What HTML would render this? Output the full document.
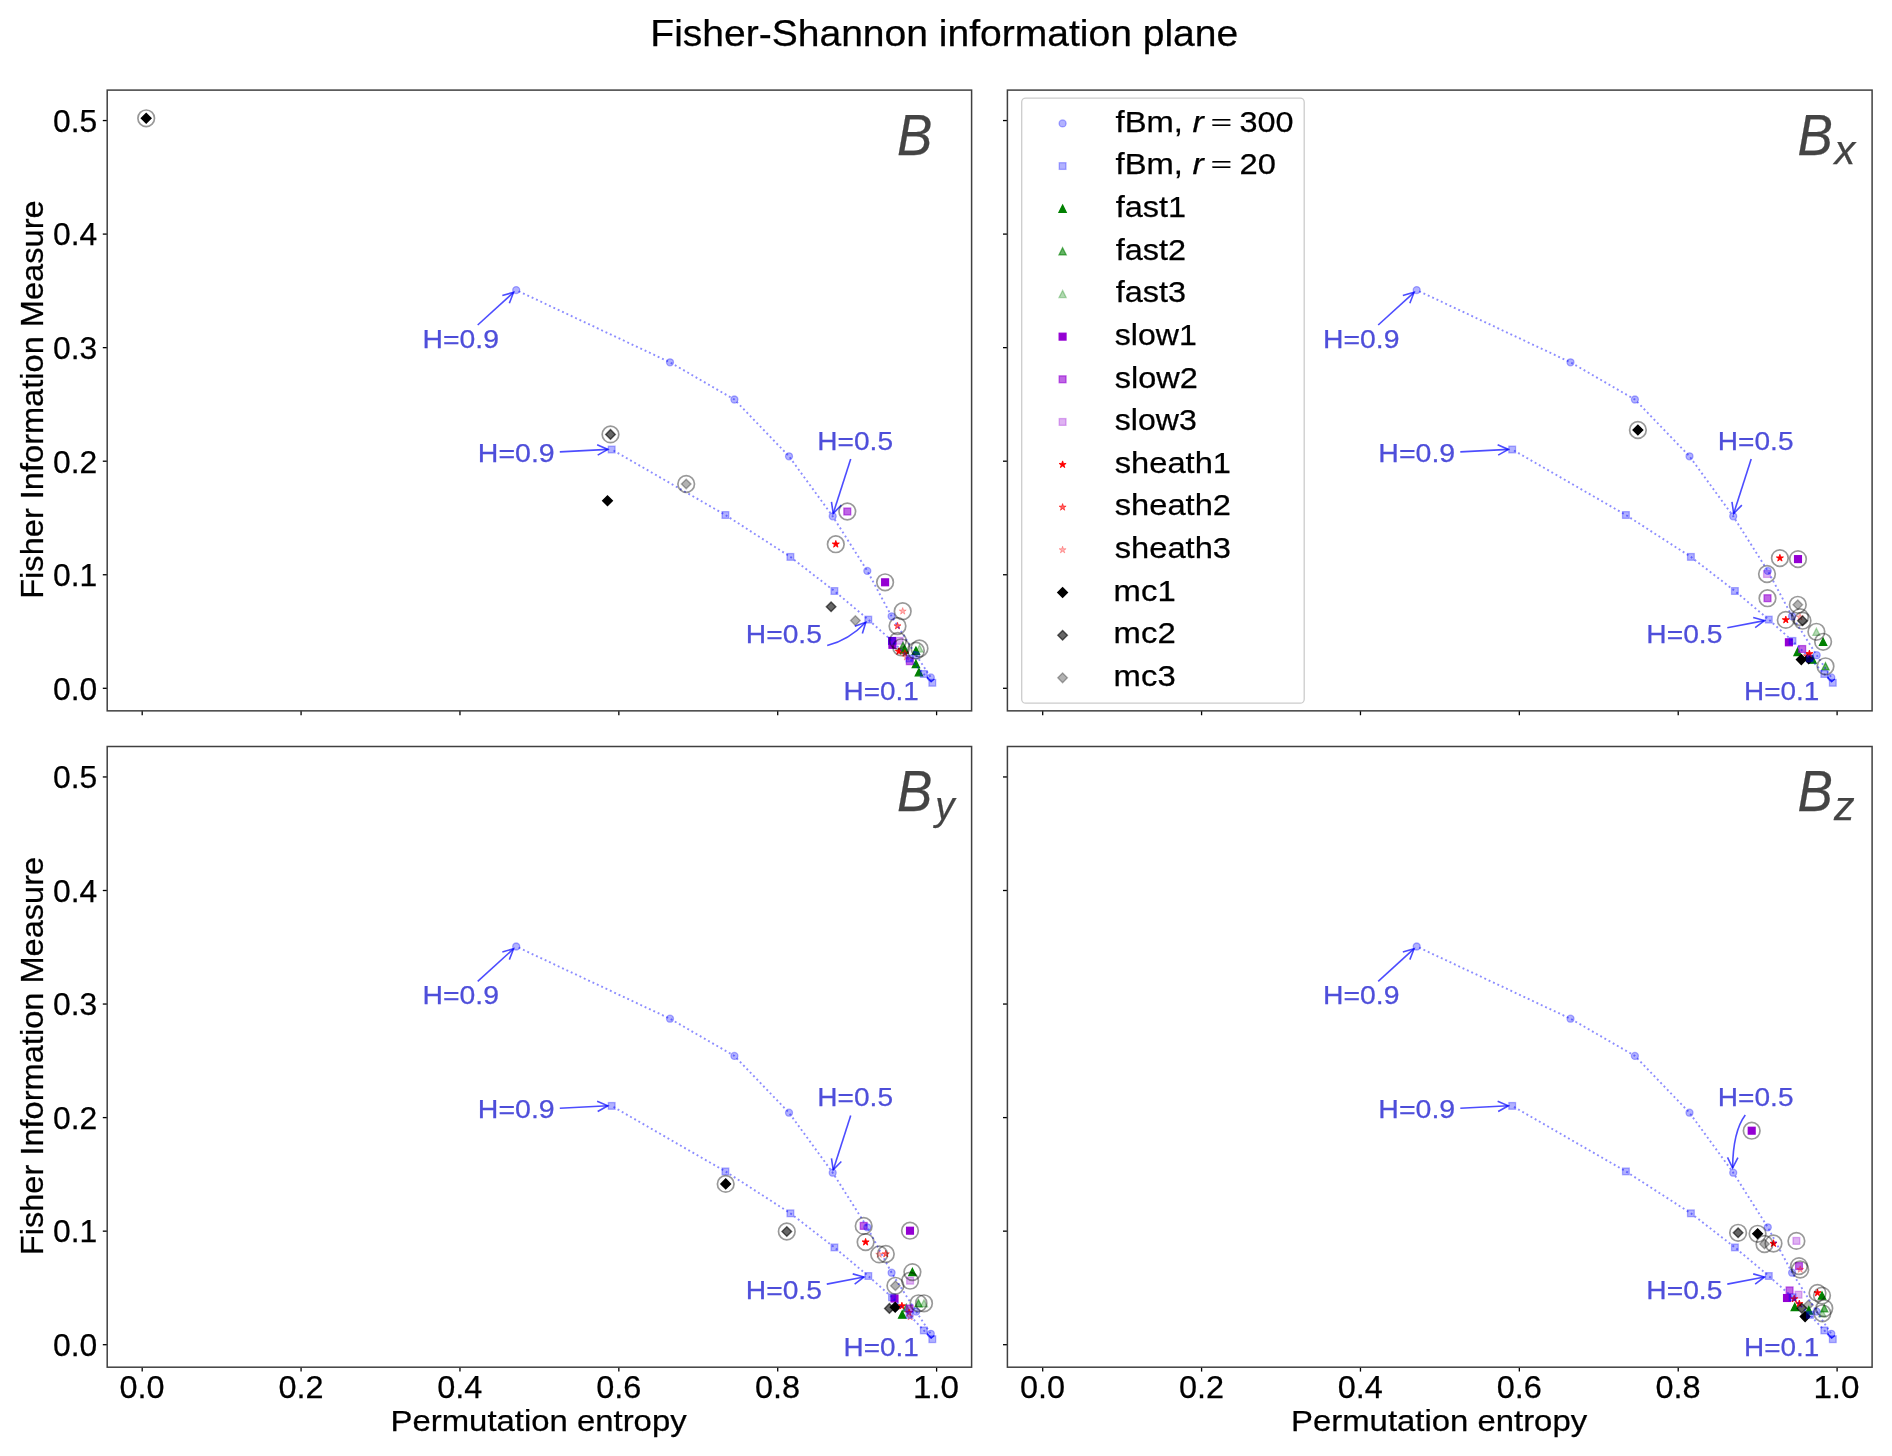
<!DOCTYPE html>
<html><head><meta charset="utf-8"><title>Fisher-Shannon information plane</title>
<style>html,body{margin:0;padding:0;background:#fff;}svg{display:block;will-change:transform;}text{font-family:"Liberation Sans", sans-serif;}</style>
</head><body>
<svg width="1892" height="1456" viewBox="0 0 1892 1456" font-family='"Liberation Sans", sans-serif'>
<defs><clipPath id="clipTL"><rect x="107.2" y="90.1" width="864.4" height="620.75"/></clipPath><clipPath id="clipTR"><rect x="1007.4" y="90.1" width="864.7" height="620.75"/></clipPath><clipPath id="clipBL"><rect x="107.2" y="746.5" width="864.4" height="620.7"/></clipPath><clipPath id="clipBR"><rect x="1007.4" y="746.5" width="864.7" height="620.7"/></clipPath></defs>
<rect x="0" y="0" width="1892" height="1456" fill="#fff"/>
<g clip-path="url(#clipTL)">
<path d="M146.2 113.5L151 118.3L146.2 123.1L141.4 118.3Z" fill="rgba(0,0,0,1.0)" stroke="rgba(0,0,0,1.0)" stroke-width="1.4"/>
<path d="M610.5 429.6L615.3 434.4L610.5 439.2L605.7 434.4Z" fill="rgba(0,0,0,0.6)" stroke="rgba(0,0,0,0.6)" stroke-width="1.4"/>
<path d="M607.5 495.9L612.3 500.7L607.5 505.5L602.7 500.7Z" fill="rgba(0,0,0,1.0)" stroke="rgba(0,0,0,1.0)" stroke-width="1.4"/>
<path d="M686.2 479.2L691 484L686.2 488.8L681.4 484Z" fill="rgba(0,0,0,0.3)" stroke="rgba(0,0,0,0.3)" stroke-width="1.4"/>
<rect x="843.9" y="508.1" width="6.8" height="6.8" fill="rgba(148,0,211,0.6)" stroke="rgba(148,0,211,0.6)" stroke-width="1.3"/>
<path d="M835.8 540.5L836.63 543.06L839.32 543.06L837.14 544.64L837.97 547.19L835.8 545.61L833.63 547.19L834.46 544.64L832.28 543.06L834.97 543.06Z" fill="rgba(255,0,0,1.0)" stroke="rgba(255,0,0,1.0)" stroke-width="0.9"/>
<rect x="881.7" y="578.9" width="6.8" height="6.8" fill="rgba(148,0,211,1.0)" stroke="rgba(148,0,211,1.0)" stroke-width="1.3"/>
<path d="M831.1 602L835.9 606.8L831.1 611.6L826.3 606.8Z" fill="rgba(0,0,0,0.6)" stroke="rgba(0,0,0,0.6)" stroke-width="1.4"/>
<path d="M855.4 615.8L860.2 620.6L855.4 625.4L850.6 620.6Z" fill="rgba(0,0,0,0.3)" stroke="rgba(0,0,0,0.3)" stroke-width="1.4"/>
<path d="M902.7 607.5L903.53 610.06L906.22 610.06L904.04 611.64L904.87 614.19L902.7 612.61L900.53 614.19L901.36 611.64L899.18 610.06L901.87 610.06Z" fill="rgba(255,0,0,0.3)" stroke="rgba(255,0,0,0.3)" stroke-width="0.9"/>
<path d="M897.5 622.3L898.33 624.86L901.02 624.86L898.84 626.44L899.67 628.99L897.5 627.41L895.33 628.99L896.16 626.44L893.98 624.86L896.67 624.86Z" fill="rgba(255,0,0,0.6)" stroke="rgba(255,0,0,0.6)" stroke-width="0.9"/>
<rect x="888.7" y="637.6" width="6.8" height="6.8" fill="rgba(148,0,211,1.0)" stroke="rgba(148,0,211,1.0)" stroke-width="1.3"/>
<rect x="889" y="641.4" width="6.8" height="6.8" fill="rgba(148,0,211,1.0)" stroke="rgba(148,0,211,1.0)" stroke-width="1.3"/>
<rect x="896.2" y="637.4" width="6.8" height="6.8" fill="rgba(148,0,211,0.3)" stroke="rgba(148,0,211,0.3)" stroke-width="1.3"/>

<path d="M903 642.2L906.6 649.4L899.4 649.4Z" fill="rgba(0,128,0,0.6)" stroke="rgba(0,128,0,0.6)" stroke-width="1.3"/>
<path d="M898.9 647.7L899.73 650.26L902.42 650.26L900.24 651.84L901.07 654.39L898.9 652.81L896.73 654.39L897.56 651.84L895.38 650.26L898.07 650.26Z" fill="rgba(255,0,0,1.0)" stroke="rgba(255,0,0,1.0)" stroke-width="0.9"/>
<path d="M904.6 645.9L908.2 653.1L901 653.1Z" fill="rgba(0,128,0,1.0)" stroke="rgba(0,128,0,1.0)" stroke-width="1.3"/>
<path d="M904.9 649.6L905.73 652.16L908.42 652.16L906.24 653.74L907.07 656.29L904.9 654.71L902.73 656.29L903.56 653.74L901.38 652.16L904.07 652.16Z" fill="rgba(255,0,0,0.6)" stroke="rgba(255,0,0,0.6)" stroke-width="0.9"/>
<path d="M906.4 653.4L907.23 655.96L909.92 655.96L907.74 657.54L908.57 660.09L906.4 658.51L904.23 660.09L905.06 657.54L902.88 655.96L905.57 655.96Z" fill="rgba(255,0,0,0.3)" stroke="rgba(255,0,0,0.3)" stroke-width="0.9"/>

<rect x="906.4" y="657.8" width="6.8" height="6.8" fill="rgba(148,0,211,0.6)" stroke="rgba(148,0,211,0.6)" stroke-width="1.3"/>
<path d="M915.9 660.3L919.5 667.5L912.3 667.5Z" fill="rgba(0,128,0,1.0)" stroke="rgba(0,128,0,1.0)" stroke-width="1.3"/>
<path d="M918.9 668.6L922.5 675.8L915.3 675.8Z" fill="rgba(0,128,0,1.0)" stroke="rgba(0,128,0,1.0)" stroke-width="1.3"/>
<path d="M915.9 647.1L919.5 654.3L912.3 654.3Z" fill="rgba(0,128,0,1.0)" stroke="rgba(0,128,0,1.0)" stroke-width="1.3"/>
<path d="M919.5 644.9L923.1 652.1L915.9 652.1Z" fill="rgba(0,128,0,0.3)" stroke="rgba(0,128,0,0.3)" stroke-width="1.3"/>
<text x="422.52" y="347.9" font-size="26" fill="rgb(78,78,218)" stroke="rgb(78,78,218)" stroke-width="0.25" textLength="76.39" lengthAdjust="spacingAndGlyphs">H=0.9</text>
<path d="M477.7 325L513.6 292.3" fill="none" stroke="rgba(0,0,255,0.7)" stroke-width="1.6"/><path d="M509.34 303.21L513.6 292.3L502.34 295.53" fill="none" stroke="rgba(0,0,255,0.7)" stroke-width="1.6" stroke-linejoin="miter"/>
<text x="477.81" y="461.7" font-size="26" fill="rgb(78,78,218)" stroke="rgb(78,78,218)" stroke-width="0.25" textLength="76.91" lengthAdjust="spacingAndGlyphs">H=0.9</text>
<path d="M559.8 451.9L607.9 449.4" fill="none" stroke="rgba(0,0,255,0.7)" stroke-width="1.6"/><path d="M597.68 455.14L607.9 449.4L597.14 444.75" fill="none" stroke="rgba(0,0,255,0.7)" stroke-width="1.6" stroke-linejoin="miter"/>
<text x="817.34" y="450" font-size="26" fill="rgb(78,78,218)" stroke="rgb(78,78,218)" stroke-width="0.25" textLength="75.66" lengthAdjust="spacingAndGlyphs">H=0.5</text>
<path d="M850.7 459L833.2 513.5" fill="none" stroke="rgba(0,0,255,0.7)" stroke-width="1.6"/><path d="M831.46 501.91L833.2 513.5L841.36 505.09" fill="none" stroke="rgba(0,0,255,0.7)" stroke-width="1.6" stroke-linejoin="miter"/>
<text x="745.83" y="643" font-size="26" fill="rgb(78,78,218)" stroke="rgb(78,78,218)" stroke-width="0.25" textLength="76.07" lengthAdjust="spacingAndGlyphs">H=0.5</text>
<path d="M827.2 645.5Q849 640 865.8 622.2" fill="none" stroke="rgba(0,0,255,0.7)" stroke-width="1.6"/><path d="M862.37 633.41L865.8 622.2L854.81 626.27" fill="none" stroke="rgba(0,0,255,0.7)" stroke-width="1.6" stroke-linejoin="miter"/>
<text x="843.55" y="699.9" font-size="26" fill="rgb(78,78,218)" stroke="rgb(78,78,218)" stroke-width="0.25" textLength="75.24" lengthAdjust="spacingAndGlyphs">H=0.1</text>
<path d="M927.2 677.2L931.3 681.6L934.4 679" fill="none" stroke="rgba(0,0,255,0.7)" stroke-width="1.3"/>
<path d="M516.2 290.1L670 362.3L734.4 399.5L789 456.3L832.7 516.3L867.3 570.9L891.6 616.3L916.2 655.2L930.8 677.4" fill="none" stroke="rgba(0,0,255,0.45)" stroke-width="1.9" stroke-dasharray="1.9 2.9" stroke-dashoffset="2.1" stroke-linecap="butt"/>
<path d="M611.7 449.5L725.4 515L790.4 556.9L834.4 591L868.3 619.6L892 640.9L909.5 658.5L923.8 674L932.3 682.8" fill="none" stroke="rgba(0,0,255,0.45)" stroke-width="1.9" stroke-dasharray="1.9 2.9" stroke-dashoffset="2.75" stroke-linecap="butt"/>
<circle cx="516.2" cy="290.1" r="3.5" fill="rgba(0,0,255,0.3)" stroke="rgba(0,0,255,0.3)" stroke-width="1.3"/>
<circle cx="670" cy="362.3" r="3.5" fill="rgba(0,0,255,0.3)" stroke="rgba(0,0,255,0.3)" stroke-width="1.3"/>
<circle cx="734.4" cy="399.5" r="3.5" fill="rgba(0,0,255,0.3)" stroke="rgba(0,0,255,0.3)" stroke-width="1.3"/>
<circle cx="789" cy="456.3" r="3.5" fill="rgba(0,0,255,0.3)" stroke="rgba(0,0,255,0.3)" stroke-width="1.3"/>
<circle cx="832.7" cy="516.3" r="3.5" fill="rgba(0,0,255,0.3)" stroke="rgba(0,0,255,0.3)" stroke-width="1.3"/>
<circle cx="867.3" cy="570.9" r="3.5" fill="rgba(0,0,255,0.3)" stroke="rgba(0,0,255,0.3)" stroke-width="1.3"/>
<circle cx="891.6" cy="616.3" r="3.5" fill="rgba(0,0,255,0.3)" stroke="rgba(0,0,255,0.3)" stroke-width="1.3"/>
<circle cx="916.2" cy="655.2" r="3.5" fill="rgba(0,0,255,0.3)" stroke="rgba(0,0,255,0.3)" stroke-width="1.3"/>
<circle cx="930.8" cy="677.4" r="3.5" fill="rgba(0,0,255,0.3)" stroke="rgba(0,0,255,0.3)" stroke-width="1.3"/>
<rect x="608.35" y="446.15" width="6.7" height="6.7" fill="rgba(0,0,255,0.3)" stroke="rgba(0,0,255,0.3)" stroke-width="1.3"/>
<rect x="722.05" y="511.65" width="6.7" height="6.7" fill="rgba(0,0,255,0.3)" stroke="rgba(0,0,255,0.3)" stroke-width="1.3"/>
<rect x="787.05" y="553.55" width="6.7" height="6.7" fill="rgba(0,0,255,0.3)" stroke="rgba(0,0,255,0.3)" stroke-width="1.3"/>
<rect x="831.05" y="587.65" width="6.7" height="6.7" fill="rgba(0,0,255,0.3)" stroke="rgba(0,0,255,0.3)" stroke-width="1.3"/>
<rect x="864.95" y="616.25" width="6.7" height="6.7" fill="rgba(0,0,255,0.3)" stroke="rgba(0,0,255,0.3)" stroke-width="1.3"/>
<rect x="888.65" y="637.55" width="6.7" height="6.7" fill="rgba(0,0,255,0.3)" stroke="rgba(0,0,255,0.3)" stroke-width="1.3"/>
<rect x="906.15" y="655.15" width="6.7" height="6.7" fill="rgba(0,0,255,0.3)" stroke="rgba(0,0,255,0.3)" stroke-width="1.3"/>
<rect x="920.45" y="670.65" width="6.7" height="6.7" fill="rgba(0,0,255,0.3)" stroke="rgba(0,0,255,0.3)" stroke-width="1.3"/>
<rect x="928.95" y="679.45" width="6.7" height="6.7" fill="rgba(0,0,255,0.3)" stroke="rgba(0,0,255,0.3)" stroke-width="1.3"/>
<circle cx="146.2" cy="118.3" r="8.3" fill="none" stroke="rgba(0,0,0,0.4)" stroke-width="1.7"/>
<circle cx="610.5" cy="434.4" r="8.3" fill="none" stroke="rgba(0,0,0,0.4)" stroke-width="1.7"/>
<circle cx="686.2" cy="484" r="8.3" fill="none" stroke="rgba(0,0,0,0.4)" stroke-width="1.7"/>
<circle cx="847.3" cy="511.5" r="8.3" fill="none" stroke="rgba(0,0,0,0.4)" stroke-width="1.7"/>
<circle cx="835.8" cy="544.2" r="8.3" fill="none" stroke="rgba(0,0,0,0.4)" stroke-width="1.7"/>
<circle cx="885.1" cy="582.3" r="8.3" fill="none" stroke="rgba(0,0,0,0.4)" stroke-width="1.7"/>
<circle cx="902.7" cy="611.2" r="8.3" fill="none" stroke="rgba(0,0,0,0.4)" stroke-width="1.7"/>
<circle cx="897.5" cy="626" r="8.3" fill="none" stroke="rgba(0,0,0,0.4)" stroke-width="1.7"/>
<circle cx="897.9" cy="640.8" r="8.3" fill="none" stroke="rgba(0,0,0,0.4)" stroke-width="1.7"/>
<circle cx="901.2" cy="647.3" r="8.3" fill="none" stroke="rgba(0,0,0,0.4)" stroke-width="1.7"/>
<circle cx="915.9" cy="650.7" r="8.3" fill="none" stroke="rgba(0,0,0,0.4)" stroke-width="1.7"/>
<circle cx="919.5" cy="648.5" r="8.3" fill="none" stroke="rgba(0,0,0,0.4)" stroke-width="1.7"/>
</g>
<line x1="102.8" y1="688.3" x2="107.2" y2="688.3" stroke="#000" stroke-width="1.3"/>
<line x1="102.8" y1="574.75" x2="107.2" y2="574.75" stroke="#000" stroke-width="1.3"/>
<line x1="102.8" y1="461.2" x2="107.2" y2="461.2" stroke="#000" stroke-width="1.3"/>
<line x1="102.8" y1="347.65" x2="107.2" y2="347.65" stroke="#000" stroke-width="1.3"/>
<line x1="102.8" y1="234.1" x2="107.2" y2="234.1" stroke="#000" stroke-width="1.3"/>
<line x1="102.8" y1="120.55" x2="107.2" y2="120.55" stroke="#000" stroke-width="1.3"/>
<line x1="142.2" y1="710.85" x2="142.2" y2="715.25" stroke="#000" stroke-width="1.3"/>
<line x1="301.08" y1="710.85" x2="301.08" y2="715.25" stroke="#000" stroke-width="1.3"/>
<line x1="459.96" y1="710.85" x2="459.96" y2="715.25" stroke="#000" stroke-width="1.3"/>
<line x1="618.84" y1="710.85" x2="618.84" y2="715.25" stroke="#000" stroke-width="1.3"/>
<line x1="777.72" y1="710.85" x2="777.72" y2="715.25" stroke="#000" stroke-width="1.3"/>
<line x1="936.6" y1="710.85" x2="936.6" y2="715.25" stroke="#000" stroke-width="1.3"/>
<rect x="107.2" y="90.1" width="864.4" height="620.75" fill="none" stroke="#404040" stroke-width="1.5"/>
<g clip-path="url(#clipTR)">
<path d="M1637.9 425.2L1642.7 430L1637.9 434.8L1633.1 430Z" fill="rgba(0,0,0,1.0)" stroke="rgba(0,0,0,1.0)" stroke-width="1.4"/>
<path d="M1779.9 554.4L1780.73 556.96L1783.42 556.96L1781.24 558.54L1782.07 561.09L1779.9 559.51L1777.73 561.09L1778.56 558.54L1776.38 556.96L1779.07 556.96Z" fill="rgba(255,0,0,1.0)" stroke="rgba(255,0,0,1.0)" stroke-width="0.9"/>
<rect x="1794.6" y="555.7" width="6.8" height="6.8" fill="rgba(148,0,211,1.0)" stroke="rgba(148,0,211,1.0)" stroke-width="1.3"/>
<rect x="1763.6" y="570.6" width="6.8" height="6.8" fill="rgba(148,0,211,0.3)" stroke="rgba(148,0,211,0.3)" stroke-width="1.3"/>
<rect x="1764.1" y="594.8" width="6.8" height="6.8" fill="rgba(148,0,211,0.6)" stroke="rgba(148,0,211,0.6)" stroke-width="1.3"/>
<path d="M1797.8 600L1802.6 604.8L1797.8 609.6L1793 604.8Z" fill="rgba(0,0,0,0.3)" stroke="rgba(0,0,0,0.3)" stroke-width="1.4"/>
<path d="M1785.8 616.2L1786.63 618.76L1789.32 618.76L1787.14 620.34L1787.97 622.89L1785.8 621.31L1783.63 622.89L1784.46 620.34L1782.28 618.76L1784.97 618.76Z" fill="rgba(255,0,0,1.0)" stroke="rgba(255,0,0,1.0)" stroke-width="0.9"/>
<path d="M1800 613.4L1800.83 615.96L1803.52 615.96L1801.34 617.54L1802.17 620.09L1800 618.51L1797.83 620.09L1798.66 617.54L1796.48 615.96L1799.17 615.96Z" fill="rgba(255,0,0,0.3)" stroke="rgba(255,0,0,0.3)" stroke-width="0.9"/>
<path d="M1802.5 615.9L1807.3 620.7L1802.5 625.5L1797.7 620.7Z" fill="rgba(0,0,0,0.6)" stroke="rgba(0,0,0,0.6)" stroke-width="1.4"/>
<path d="M1816.4 628.2L1820 635.4L1812.8 635.4Z" fill="rgba(0,128,0,0.3)" stroke="rgba(0,128,0,0.3)" stroke-width="1.3"/>
<path d="M1823.1 638.2L1826.7 645.4L1819.5 645.4Z" fill="rgba(0,128,0,1.0)" stroke="rgba(0,128,0,1.0)" stroke-width="1.3"/>
<rect x="1785.5" y="638.9" width="6.8" height="6.8" fill="rgba(148,0,211,1.0)" stroke="rgba(148,0,211,1.0)" stroke-width="1.3"/>
<path d="M1797.6 648.3L1801.2 655.5L1794 655.5Z" fill="rgba(0,128,0,1.0)" stroke="rgba(0,128,0,1.0)" stroke-width="1.3"/>
<rect x="1798.8" y="645.6" width="6.8" height="6.8" fill="rgba(148,0,211,0.6)" stroke="rgba(148,0,211,0.6)" stroke-width="1.3"/>
<path d="M1807 652.3L1807.83 654.86L1810.52 654.86L1808.34 656.44L1809.17 658.99L1807 657.41L1804.83 658.99L1805.66 656.44L1803.48 654.86L1806.17 654.86Z" fill="rgba(255,0,0,0.6)" stroke="rgba(255,0,0,0.6)" stroke-width="0.9"/>
<path d="M1812.5 656L1816.1 663.2L1808.9 663.2Z" fill="rgba(0,128,0,1.0)" stroke="rgba(0,128,0,1.0)" stroke-width="1.3"/>
<path d="M1808.7 653.9L1813.5 658.7L1808.7 663.5L1803.9 658.7Z" fill="rgba(0,0,0,1.0)" stroke="rgba(0,0,0,1.0)" stroke-width="1.4"/>
<path d="M1809.4 650.1L1810.23 652.66L1812.92 652.66L1810.74 654.24L1811.57 656.79L1809.4 655.21L1807.23 656.79L1808.06 654.24L1805.88 652.66L1808.57 652.66Z" fill="rgba(255,0,0,1.0)" stroke="rgba(255,0,0,1.0)" stroke-width="0.9"/>
<path d="M1801.3 654.8L1806.1 659.6L1801.3 664.4L1796.5 659.6Z" fill="rgba(0,0,0,1.0)" stroke="rgba(0,0,0,1.0)" stroke-width="1.4"/>
<path d="M1825.5 662.7L1829.1 669.9L1821.9 669.9Z" fill="rgba(0,128,0,0.6)" stroke="rgba(0,128,0,0.6)" stroke-width="1.3"/>
<text x="1323.02" y="347.9" font-size="26" fill="rgb(78,78,218)" stroke="rgb(78,78,218)" stroke-width="0.25" textLength="76.39" lengthAdjust="spacingAndGlyphs">H=0.9</text>
<path d="M1378.2 325L1414.1 292.3" fill="none" stroke="rgba(0,0,255,0.7)" stroke-width="1.6"/><path d="M1409.84 303.21L1414.1 292.3L1402.84 295.53" fill="none" stroke="rgba(0,0,255,0.7)" stroke-width="1.6" stroke-linejoin="miter"/>
<text x="1378.31" y="461.7" font-size="26" fill="rgb(78,78,218)" stroke="rgb(78,78,218)" stroke-width="0.25" textLength="76.91" lengthAdjust="spacingAndGlyphs">H=0.9</text>
<path d="M1460.3 451.9L1508.4 449.4" fill="none" stroke="rgba(0,0,255,0.7)" stroke-width="1.6"/><path d="M1498.18 455.14L1508.4 449.4L1497.64 444.75" fill="none" stroke="rgba(0,0,255,0.7)" stroke-width="1.6" stroke-linejoin="miter"/>
<text x="1717.84" y="450" font-size="26" fill="rgb(78,78,218)" stroke="rgb(78,78,218)" stroke-width="0.25" textLength="75.66" lengthAdjust="spacingAndGlyphs">H=0.5</text>
<path d="M1751.2 459L1733.7 513.5" fill="none" stroke="rgba(0,0,255,0.7)" stroke-width="1.6"/><path d="M1731.96 501.91L1733.7 513.5L1741.86 505.09" fill="none" stroke="rgba(0,0,255,0.7)" stroke-width="1.6" stroke-linejoin="miter"/>
<text x="1646.33" y="643" font-size="26" fill="rgb(78,78,218)" stroke="rgb(78,78,218)" stroke-width="0.25" textLength="76.07" lengthAdjust="spacingAndGlyphs">H=0.5</text>
<path d="M1727.3 627.7L1764.5 620.6" fill="none" stroke="rgba(0,0,255,0.7)" stroke-width="1.6"/><path d="M1755.16 627.68L1764.5 620.6L1753.21 617.46" fill="none" stroke="rgba(0,0,255,0.7)" stroke-width="1.6" stroke-linejoin="miter"/>
<text x="1744.05" y="699.9" font-size="26" fill="rgb(78,78,218)" stroke="rgb(78,78,218)" stroke-width="0.25" textLength="75.24" lengthAdjust="spacingAndGlyphs">H=0.1</text>
<path d="M1827.7 677.2L1831.8 681.6L1834.9 679" fill="none" stroke="rgba(0,0,255,0.7)" stroke-width="1.3"/>
<path d="M1416.7 290.1L1570.5 362.3L1634.9 399.5L1689.5 456.3L1733.2 516.3L1767.8 570.9L1792.1 616.3L1816.7 655.2L1831.3 677.4" fill="none" stroke="rgba(0,0,255,0.45)" stroke-width="1.9" stroke-dasharray="1.9 2.9" stroke-dashoffset="2.1" stroke-linecap="butt"/>
<path d="M1512.2 449.5L1625.9 515L1690.9 556.9L1734.9 591L1768.8 619.6L1792.5 640.9L1810 658.5L1824.3 674L1832.8 682.8" fill="none" stroke="rgba(0,0,255,0.45)" stroke-width="1.9" stroke-dasharray="1.9 2.9" stroke-dashoffset="2.75" stroke-linecap="butt"/>
<circle cx="1416.7" cy="290.1" r="3.5" fill="rgba(0,0,255,0.3)" stroke="rgba(0,0,255,0.3)" stroke-width="1.3"/>
<circle cx="1570.5" cy="362.3" r="3.5" fill="rgba(0,0,255,0.3)" stroke="rgba(0,0,255,0.3)" stroke-width="1.3"/>
<circle cx="1634.9" cy="399.5" r="3.5" fill="rgba(0,0,255,0.3)" stroke="rgba(0,0,255,0.3)" stroke-width="1.3"/>
<circle cx="1689.5" cy="456.3" r="3.5" fill="rgba(0,0,255,0.3)" stroke="rgba(0,0,255,0.3)" stroke-width="1.3"/>
<circle cx="1733.2" cy="516.3" r="3.5" fill="rgba(0,0,255,0.3)" stroke="rgba(0,0,255,0.3)" stroke-width="1.3"/>
<circle cx="1767.8" cy="570.9" r="3.5" fill="rgba(0,0,255,0.3)" stroke="rgba(0,0,255,0.3)" stroke-width="1.3"/>
<circle cx="1792.1" cy="616.3" r="3.5" fill="rgba(0,0,255,0.3)" stroke="rgba(0,0,255,0.3)" stroke-width="1.3"/>
<circle cx="1816.7" cy="655.2" r="3.5" fill="rgba(0,0,255,0.3)" stroke="rgba(0,0,255,0.3)" stroke-width="1.3"/>
<circle cx="1831.3" cy="677.4" r="3.5" fill="rgba(0,0,255,0.3)" stroke="rgba(0,0,255,0.3)" stroke-width="1.3"/>
<rect x="1508.85" y="446.15" width="6.7" height="6.7" fill="rgba(0,0,255,0.3)" stroke="rgba(0,0,255,0.3)" stroke-width="1.3"/>
<rect x="1622.55" y="511.65" width="6.7" height="6.7" fill="rgba(0,0,255,0.3)" stroke="rgba(0,0,255,0.3)" stroke-width="1.3"/>
<rect x="1687.55" y="553.55" width="6.7" height="6.7" fill="rgba(0,0,255,0.3)" stroke="rgba(0,0,255,0.3)" stroke-width="1.3"/>
<rect x="1731.55" y="587.65" width="6.7" height="6.7" fill="rgba(0,0,255,0.3)" stroke="rgba(0,0,255,0.3)" stroke-width="1.3"/>
<rect x="1765.45" y="616.25" width="6.7" height="6.7" fill="rgba(0,0,255,0.3)" stroke="rgba(0,0,255,0.3)" stroke-width="1.3"/>
<rect x="1789.15" y="637.55" width="6.7" height="6.7" fill="rgba(0,0,255,0.3)" stroke="rgba(0,0,255,0.3)" stroke-width="1.3"/>
<rect x="1806.65" y="655.15" width="6.7" height="6.7" fill="rgba(0,0,255,0.3)" stroke="rgba(0,0,255,0.3)" stroke-width="1.3"/>
<rect x="1820.95" y="670.65" width="6.7" height="6.7" fill="rgba(0,0,255,0.3)" stroke="rgba(0,0,255,0.3)" stroke-width="1.3"/>
<rect x="1829.45" y="679.45" width="6.7" height="6.7" fill="rgba(0,0,255,0.3)" stroke="rgba(0,0,255,0.3)" stroke-width="1.3"/>
<circle cx="1637.9" cy="430" r="8.3" fill="none" stroke="rgba(0,0,0,0.4)" stroke-width="1.7"/>
<circle cx="1779.9" cy="558.1" r="8.3" fill="none" stroke="rgba(0,0,0,0.4)" stroke-width="1.7"/>
<circle cx="1798" cy="559.1" r="8.3" fill="none" stroke="rgba(0,0,0,0.4)" stroke-width="1.7"/>
<circle cx="1767" cy="574" r="8.3" fill="none" stroke="rgba(0,0,0,0.4)" stroke-width="1.7"/>
<circle cx="1767.5" cy="598.2" r="8.3" fill="none" stroke="rgba(0,0,0,0.4)" stroke-width="1.7"/>
<circle cx="1797.8" cy="604.8" r="8.3" fill="none" stroke="rgba(0,0,0,0.4)" stroke-width="1.7"/>
<circle cx="1785.8" cy="619.9" r="8.3" fill="none" stroke="rgba(0,0,0,0.4)" stroke-width="1.7"/>
<circle cx="1800" cy="617.1" r="8.3" fill="none" stroke="rgba(0,0,0,0.4)" stroke-width="1.7"/>
<circle cx="1802.5" cy="620.7" r="8.3" fill="none" stroke="rgba(0,0,0,0.4)" stroke-width="1.7"/>
<circle cx="1816.4" cy="631.8" r="8.3" fill="none" stroke="rgba(0,0,0,0.4)" stroke-width="1.7"/>
<circle cx="1823.1" cy="641.8" r="8.3" fill="none" stroke="rgba(0,0,0,0.4)" stroke-width="1.7"/>
<circle cx="1825.5" cy="666.3" r="8.3" fill="none" stroke="rgba(0,0,0,0.4)" stroke-width="1.7"/>
</g>
<line x1="1003" y1="688.3" x2="1007.4" y2="688.3" stroke="#000" stroke-width="1.3"/>
<line x1="1003" y1="574.75" x2="1007.4" y2="574.75" stroke="#000" stroke-width="1.3"/>
<line x1="1003" y1="461.2" x2="1007.4" y2="461.2" stroke="#000" stroke-width="1.3"/>
<line x1="1003" y1="347.65" x2="1007.4" y2="347.65" stroke="#000" stroke-width="1.3"/>
<line x1="1003" y1="234.1" x2="1007.4" y2="234.1" stroke="#000" stroke-width="1.3"/>
<line x1="1003" y1="120.55" x2="1007.4" y2="120.55" stroke="#000" stroke-width="1.3"/>
<line x1="1042.7" y1="710.85" x2="1042.7" y2="715.25" stroke="#000" stroke-width="1.3"/>
<line x1="1201.58" y1="710.85" x2="1201.58" y2="715.25" stroke="#000" stroke-width="1.3"/>
<line x1="1360.46" y1="710.85" x2="1360.46" y2="715.25" stroke="#000" stroke-width="1.3"/>
<line x1="1519.34" y1="710.85" x2="1519.34" y2="715.25" stroke="#000" stroke-width="1.3"/>
<line x1="1678.22" y1="710.85" x2="1678.22" y2="715.25" stroke="#000" stroke-width="1.3"/>
<line x1="1837.1" y1="710.85" x2="1837.1" y2="715.25" stroke="#000" stroke-width="1.3"/>
<rect x="1007.4" y="90.1" width="864.7" height="620.75" fill="none" stroke="#404040" stroke-width="1.5"/>
<g clip-path="url(#clipBL)">
<path d="M725.7 1179.1L730.5 1183.9L725.7 1188.7L720.9 1183.9Z" fill="rgba(0,0,0,1.0)" stroke="rgba(0,0,0,1.0)" stroke-width="1.4"/>
<path d="M786.8 1226.7L791.6 1231.5L786.8 1236.3L782 1231.5Z" fill="rgba(0,0,0,0.6)" stroke="rgba(0,0,0,0.6)" stroke-width="1.4"/>
<rect x="860.3" y="1222.5" width="6.8" height="6.8" fill="rgba(148,0,211,0.6)" stroke="rgba(148,0,211,0.6)" stroke-width="1.3"/>
<rect x="906.6" y="1227.3" width="6.8" height="6.8" fill="rgba(148,0,211,1.0)" stroke="rgba(148,0,211,1.0)" stroke-width="1.3"/>
<path d="M865.6 1238.4L866.43 1240.96L869.12 1240.96L866.94 1242.54L867.77 1245.09L865.6 1243.51L863.43 1245.09L864.26 1242.54L862.08 1240.96L864.77 1240.96Z" fill="rgba(255,0,0,1.0)" stroke="rgba(255,0,0,1.0)" stroke-width="0.9"/>
<path d="M879.2 1250.7L880.03 1253.26L882.72 1253.26L880.54 1254.84L881.37 1257.39L879.2 1255.81L877.03 1257.39L877.86 1254.84L875.68 1253.26L878.37 1253.26Z" fill="rgba(255,0,0,0.3)" stroke="rgba(255,0,0,0.3)" stroke-width="0.9"/>
<path d="M885.8 1250.3L886.63 1252.86L889.32 1252.86L887.14 1254.44L887.97 1256.99L885.8 1255.41L883.63 1256.99L884.46 1254.44L882.28 1252.86L884.97 1252.86Z" fill="rgba(255,0,0,0.6)" stroke="rgba(255,0,0,0.6)" stroke-width="0.9"/>
<path d="M912.4 1268.5L916 1275.7L908.8 1275.7Z" fill="rgba(0,128,0,1.0)" stroke="rgba(0,128,0,1.0)" stroke-width="1.3"/>
<rect x="906.7" y="1277.3" width="6.8" height="6.8" fill="rgba(148,0,211,0.3)" stroke="rgba(148,0,211,0.3)" stroke-width="1.3"/>
<path d="M895.4 1281L900.2 1285.8L895.4 1290.6L890.6 1285.8Z" fill="rgba(0,0,0,0.3)" stroke="rgba(0,0,0,0.3)" stroke-width="1.4"/>
<rect x="891.1" y="1295.1" width="6.8" height="6.8" fill="rgba(148,0,211,1.0)" stroke="rgba(148,0,211,1.0)" stroke-width="1.3"/>
<path d="M889.4 1303.6L894.2 1308.4L889.4 1313.2L884.6 1308.4Z" fill="rgba(0,0,0,0.6)" stroke="rgba(0,0,0,0.6)" stroke-width="1.4"/>
<path d="M895.2 1302.4L900 1307.2L895.2 1312L890.4 1307.2Z" fill="rgba(0,0,0,1.0)" stroke="rgba(0,0,0,1.0)" stroke-width="1.4"/>
<path d="M901.9 1302.3L902.73 1304.86L905.42 1304.86L903.24 1306.44L904.07 1308.99L901.9 1307.41L899.73 1308.99L900.56 1306.44L898.38 1304.86L901.07 1304.86Z" fill="rgba(255,0,0,1.0)" stroke="rgba(255,0,0,1.0)" stroke-width="0.9"/>
<path d="M902.2 1311L905.8 1318.2L898.6 1318.2Z" fill="rgba(0,128,0,1.0)" stroke="rgba(0,128,0,1.0)" stroke-width="1.3"/>
<path d="M906.3 1304.3L909.9 1311.5L902.7 1311.5Z" fill="rgba(0,128,0,0.6)" stroke="rgba(0,128,0,0.6)" stroke-width="1.3"/>
<rect x="906.2" y="1305.1" width="6.8" height="6.8" fill="rgba(148,0,211,0.6)" stroke="rgba(148,0,211,0.6)" stroke-width="1.3"/>
<path d="M909.1 1309L909.93 1311.56L912.62 1311.56L910.44 1313.14L911.27 1315.69L909.1 1314.11L906.93 1315.69L907.76 1313.14L905.58 1311.56L908.27 1311.56Z" fill="rgba(255,0,0,0.6)" stroke="rgba(255,0,0,0.6)" stroke-width="0.9"/>
<path d="M910.1 1313.3L910.93 1315.86L913.62 1315.86L911.44 1317.44L912.27 1319.99L910.1 1318.41L907.93 1319.99L908.76 1317.44L906.58 1315.86L909.27 1315.86Z" fill="rgba(255,0,0,0.3)" stroke="rgba(255,0,0,0.3)" stroke-width="0.9"/>
<path d="M918.5 1299.7L922.1 1306.9L914.9 1306.9Z" fill="rgba(0,128,0,0.6)" stroke="rgba(0,128,0,0.6)" stroke-width="1.3"/>
<path d="M924 1299.7L927.6 1306.9L920.4 1306.9Z" fill="rgba(0,128,0,0.3)" stroke="rgba(0,128,0,0.3)" stroke-width="1.3"/>
<text x="422.52" y="1004.3" font-size="26" fill="rgb(78,78,218)" stroke="rgb(78,78,218)" stroke-width="0.25" textLength="76.39" lengthAdjust="spacingAndGlyphs">H=0.9</text>
<path d="M477.7 981.4L513.6 948.7" fill="none" stroke="rgba(0,0,255,0.7)" stroke-width="1.6"/><path d="M509.34 959.61L513.6 948.7L502.34 951.93" fill="none" stroke="rgba(0,0,255,0.7)" stroke-width="1.6" stroke-linejoin="miter"/>
<text x="477.81" y="1118.1" font-size="26" fill="rgb(78,78,218)" stroke="rgb(78,78,218)" stroke-width="0.25" textLength="76.91" lengthAdjust="spacingAndGlyphs">H=0.9</text>
<path d="M559.8 1108.3L607.9 1105.8" fill="none" stroke="rgba(0,0,255,0.7)" stroke-width="1.6"/><path d="M597.68 1111.54L607.9 1105.8L597.14 1101.15" fill="none" stroke="rgba(0,0,255,0.7)" stroke-width="1.6" stroke-linejoin="miter"/>
<text x="817.34" y="1106.4" font-size="26" fill="rgb(78,78,218)" stroke="rgb(78,78,218)" stroke-width="0.25" textLength="75.66" lengthAdjust="spacingAndGlyphs">H=0.5</text>
<path d="M850.7 1115.4L833.2 1169.9" fill="none" stroke="rgba(0,0,255,0.7)" stroke-width="1.6"/><path d="M831.46 1158.31L833.2 1169.9L841.36 1161.49" fill="none" stroke="rgba(0,0,255,0.7)" stroke-width="1.6" stroke-linejoin="miter"/>
<text x="745.83" y="1299.4" font-size="26" fill="rgb(78,78,218)" stroke="rgb(78,78,218)" stroke-width="0.25" textLength="76.07" lengthAdjust="spacingAndGlyphs">H=0.5</text>
<path d="M826.8 1284.1L864 1277" fill="none" stroke="rgba(0,0,255,0.7)" stroke-width="1.6"/><path d="M854.66 1284.08L864 1277L852.71 1273.86" fill="none" stroke="rgba(0,0,255,0.7)" stroke-width="1.6" stroke-linejoin="miter"/>
<text x="843.55" y="1356.3" font-size="26" fill="rgb(78,78,218)" stroke="rgb(78,78,218)" stroke-width="0.25" textLength="75.24" lengthAdjust="spacingAndGlyphs">H=0.1</text>
<path d="M927.2 1333.6L931.3 1338L934.4 1335.4" fill="none" stroke="rgba(0,0,255,0.7)" stroke-width="1.3"/>
<path d="M516.2 946.5L670 1018.7L734.4 1055.9L789 1112.7L832.7 1172.7L867.3 1227.3L891.6 1272.7L916.2 1311.6L930.8 1333.8" fill="none" stroke="rgba(0,0,255,0.45)" stroke-width="1.9" stroke-dasharray="1.9 2.9" stroke-dashoffset="2.1" stroke-linecap="butt"/>
<path d="M611.7 1105.9L725.4 1171.4L790.4 1213.3L834.4 1247.4L868.3 1276L892 1297.3L909.5 1314.9L923.8 1330.4L932.3 1339.2" fill="none" stroke="rgba(0,0,255,0.45)" stroke-width="1.9" stroke-dasharray="1.9 2.9" stroke-dashoffset="2.75" stroke-linecap="butt"/>
<circle cx="516.2" cy="946.5" r="3.5" fill="rgba(0,0,255,0.3)" stroke="rgba(0,0,255,0.3)" stroke-width="1.3"/>
<circle cx="670" cy="1018.7" r="3.5" fill="rgba(0,0,255,0.3)" stroke="rgba(0,0,255,0.3)" stroke-width="1.3"/>
<circle cx="734.4" cy="1055.9" r="3.5" fill="rgba(0,0,255,0.3)" stroke="rgba(0,0,255,0.3)" stroke-width="1.3"/>
<circle cx="789" cy="1112.7" r="3.5" fill="rgba(0,0,255,0.3)" stroke="rgba(0,0,255,0.3)" stroke-width="1.3"/>
<circle cx="832.7" cy="1172.7" r="3.5" fill="rgba(0,0,255,0.3)" stroke="rgba(0,0,255,0.3)" stroke-width="1.3"/>
<circle cx="867.3" cy="1227.3" r="3.5" fill="rgba(0,0,255,0.3)" stroke="rgba(0,0,255,0.3)" stroke-width="1.3"/>
<circle cx="891.6" cy="1272.7" r="3.5" fill="rgba(0,0,255,0.3)" stroke="rgba(0,0,255,0.3)" stroke-width="1.3"/>
<circle cx="916.2" cy="1311.6" r="3.5" fill="rgba(0,0,255,0.3)" stroke="rgba(0,0,255,0.3)" stroke-width="1.3"/>
<circle cx="930.8" cy="1333.8" r="3.5" fill="rgba(0,0,255,0.3)" stroke="rgba(0,0,255,0.3)" stroke-width="1.3"/>
<rect x="608.35" y="1102.55" width="6.7" height="6.7" fill="rgba(0,0,255,0.3)" stroke="rgba(0,0,255,0.3)" stroke-width="1.3"/>
<rect x="722.05" y="1168.05" width="6.7" height="6.7" fill="rgba(0,0,255,0.3)" stroke="rgba(0,0,255,0.3)" stroke-width="1.3"/>
<rect x="787.05" y="1209.95" width="6.7" height="6.7" fill="rgba(0,0,255,0.3)" stroke="rgba(0,0,255,0.3)" stroke-width="1.3"/>
<rect x="831.05" y="1244.05" width="6.7" height="6.7" fill="rgba(0,0,255,0.3)" stroke="rgba(0,0,255,0.3)" stroke-width="1.3"/>
<rect x="864.95" y="1272.65" width="6.7" height="6.7" fill="rgba(0,0,255,0.3)" stroke="rgba(0,0,255,0.3)" stroke-width="1.3"/>
<rect x="888.65" y="1293.95" width="6.7" height="6.7" fill="rgba(0,0,255,0.3)" stroke="rgba(0,0,255,0.3)" stroke-width="1.3"/>
<rect x="906.15" y="1311.55" width="6.7" height="6.7" fill="rgba(0,0,255,0.3)" stroke="rgba(0,0,255,0.3)" stroke-width="1.3"/>
<rect x="920.45" y="1327.05" width="6.7" height="6.7" fill="rgba(0,0,255,0.3)" stroke="rgba(0,0,255,0.3)" stroke-width="1.3"/>
<rect x="928.95" y="1335.85" width="6.7" height="6.7" fill="rgba(0,0,255,0.3)" stroke="rgba(0,0,255,0.3)" stroke-width="1.3"/>
<circle cx="725.7" cy="1183.9" r="8.3" fill="none" stroke="rgba(0,0,0,0.4)" stroke-width="1.7"/>
<circle cx="786.8" cy="1231.5" r="8.3" fill="none" stroke="rgba(0,0,0,0.4)" stroke-width="1.7"/>
<circle cx="863.7" cy="1225.9" r="8.3" fill="none" stroke="rgba(0,0,0,0.4)" stroke-width="1.7"/>
<circle cx="910" cy="1230.7" r="8.3" fill="none" stroke="rgba(0,0,0,0.4)" stroke-width="1.7"/>
<circle cx="865.6" cy="1242.1" r="8.3" fill="none" stroke="rgba(0,0,0,0.4)" stroke-width="1.7"/>
<circle cx="879.2" cy="1254.4" r="8.3" fill="none" stroke="rgba(0,0,0,0.4)" stroke-width="1.7"/>
<circle cx="885.8" cy="1254" r="8.3" fill="none" stroke="rgba(0,0,0,0.4)" stroke-width="1.7"/>
<circle cx="912.4" cy="1272.1" r="8.3" fill="none" stroke="rgba(0,0,0,0.4)" stroke-width="1.7"/>
<circle cx="910.1" cy="1280.7" r="8.3" fill="none" stroke="rgba(0,0,0,0.4)" stroke-width="1.7"/>
<circle cx="895.4" cy="1285.8" r="8.3" fill="none" stroke="rgba(0,0,0,0.4)" stroke-width="1.7"/>
<circle cx="918.5" cy="1303.3" r="8.3" fill="none" stroke="rgba(0,0,0,0.4)" stroke-width="1.7"/>
<circle cx="924" cy="1303.3" r="8.3" fill="none" stroke="rgba(0,0,0,0.4)" stroke-width="1.7"/>
</g>
<line x1="102.8" y1="1344.7" x2="107.2" y2="1344.7" stroke="#000" stroke-width="1.3"/>
<line x1="102.8" y1="1231.15" x2="107.2" y2="1231.15" stroke="#000" stroke-width="1.3"/>
<line x1="102.8" y1="1117.6" x2="107.2" y2="1117.6" stroke="#000" stroke-width="1.3"/>
<line x1="102.8" y1="1004.05" x2="107.2" y2="1004.05" stroke="#000" stroke-width="1.3"/>
<line x1="102.8" y1="890.5" x2="107.2" y2="890.5" stroke="#000" stroke-width="1.3"/>
<line x1="102.8" y1="776.95" x2="107.2" y2="776.95" stroke="#000" stroke-width="1.3"/>
<line x1="142.2" y1="1367.2" x2="142.2" y2="1371.6" stroke="#000" stroke-width="1.3"/>
<line x1="301.08" y1="1367.2" x2="301.08" y2="1371.6" stroke="#000" stroke-width="1.3"/>
<line x1="459.96" y1="1367.2" x2="459.96" y2="1371.6" stroke="#000" stroke-width="1.3"/>
<line x1="618.84" y1="1367.2" x2="618.84" y2="1371.6" stroke="#000" stroke-width="1.3"/>
<line x1="777.72" y1="1367.2" x2="777.72" y2="1371.6" stroke="#000" stroke-width="1.3"/>
<line x1="936.6" y1="1367.2" x2="936.6" y2="1371.6" stroke="#000" stroke-width="1.3"/>
<rect x="107.2" y="746.5" width="864.4" height="620.7" fill="none" stroke="#404040" stroke-width="1.5"/>
<g clip-path="url(#clipBR)">
<rect x="1748.3" y="1127.3" width="6.8" height="6.8" fill="rgba(148,0,211,1.0)" stroke="rgba(148,0,211,1.0)" stroke-width="1.3"/>
<path d="M1738.1 1228L1742.9 1232.8L1738.1 1237.6L1733.3 1232.8Z" fill="rgba(0,0,0,0.6)" stroke="rgba(0,0,0,0.6)" stroke-width="1.4"/>
<path d="M1757.6 1229L1762.4 1233.8L1757.6 1238.6L1752.8 1233.8Z" fill="rgba(0,0,0,1.0)" stroke="rgba(0,0,0,1.0)" stroke-width="1.4"/>
<path d="M1764.5 1239.2L1769.3 1244L1764.5 1248.8L1759.7 1244Z" fill="rgba(0,0,0,0.3)" stroke="rgba(0,0,0,0.3)" stroke-width="1.4"/>
<path d="M1773.5 1239.8L1774.33 1242.36L1777.02 1242.36L1774.84 1243.94L1775.67 1246.49L1773.5 1244.91L1771.33 1246.49L1772.16 1243.94L1769.98 1242.36L1772.67 1242.36Z" fill="rgba(255,0,0,1.0)" stroke="rgba(255,0,0,1.0)" stroke-width="0.9"/>
<rect x="1793" y="1237.5" width="6.8" height="6.8" fill="rgba(148,0,211,0.3)" stroke="rgba(148,0,211,0.3)" stroke-width="1.3"/>
<rect x="1795.6" y="1262.7" width="6.8" height="6.8" fill="rgba(148,0,211,0.6)" stroke="rgba(148,0,211,0.6)" stroke-width="1.3"/>
<path d="M1800.2 1265.8L1801.03 1268.36L1803.72 1268.36L1801.54 1269.94L1802.37 1272.49L1800.2 1270.91L1798.03 1272.49L1798.86 1269.94L1796.68 1268.36L1799.37 1268.36Z" fill="rgba(255,0,0,0.3)" stroke="rgba(255,0,0,0.3)" stroke-width="0.9"/>
<rect x="1786.2" y="1287" width="6.8" height="6.8" fill="rgba(148,0,211,0.6)" stroke="rgba(148,0,211,0.6)" stroke-width="1.3"/>
<rect x="1783.6" y="1294.6" width="6.8" height="6.8" fill="rgba(148,0,211,1.0)" stroke="rgba(148,0,211,1.0)" stroke-width="1.3"/>
<rect x="1795.1" y="1291.3" width="6.8" height="6.8" fill="rgba(148,0,211,0.3)" stroke="rgba(148,0,211,0.3)" stroke-width="1.3"/>
<path d="M1794.2 1295.2L1795.03 1297.76L1797.72 1297.76L1795.54 1299.34L1796.37 1301.89L1794.2 1300.31L1792.03 1301.89L1792.86 1299.34L1790.68 1297.76L1793.37 1297.76Z" fill="rgba(255,0,0,1.0)" stroke="rgba(255,0,0,1.0)" stroke-width="0.9"/>
<path d="M1794.8 1303.5L1798.4 1310.7L1791.2 1310.7Z" fill="rgba(0,128,0,1.0)" stroke="rgba(0,128,0,1.0)" stroke-width="1.3"/>
<path d="M1799.3 1300.1L1800.13 1302.66L1802.82 1302.66L1800.64 1304.24L1801.47 1306.79L1799.3 1305.21L1797.13 1306.79L1797.96 1304.24L1795.78 1302.66L1798.47 1302.66Z" fill="rgba(255,0,0,1.0)" stroke="rgba(255,0,0,1.0)" stroke-width="0.9"/>
<path d="M1808.4 1300.2L1813.2 1305L1808.4 1309.8L1803.6 1305Z" fill="rgba(0,0,0,0.3)" stroke="rgba(0,0,0,0.3)" stroke-width="1.4"/>
<path d="M1801.8 1303.5L1806.6 1308.3L1801.8 1313.1L1797 1308.3Z" fill="rgba(0,0,0,0.6)" stroke="rgba(0,0,0,0.6)" stroke-width="1.4"/>
<path d="M1808.8 1306.8L1812.4 1314L1805.2 1314Z" fill="rgba(0,128,0,1.0)" stroke="rgba(0,128,0,1.0)" stroke-width="1.3"/>
<path d="M1805.1 1311.8L1809.9 1316.6L1805.1 1321.4L1800.3 1316.6Z" fill="rgba(0,0,0,1.0)" stroke="rgba(0,0,0,1.0)" stroke-width="1.4"/>
<path d="M1817.5 1289.2L1818.33 1291.76L1821.02 1291.76L1818.84 1293.34L1819.67 1295.89L1817.5 1294.31L1815.33 1295.89L1816.16 1293.34L1813.98 1291.76L1816.67 1291.76Z" fill="rgba(255,0,0,1.0)" stroke="rgba(255,0,0,1.0)" stroke-width="0.9"/>
<path d="M1822 1292L1825.6 1299.2L1818.4 1299.2Z" fill="rgba(0,128,0,1.0)" stroke="rgba(0,128,0,1.0)" stroke-width="1.3"/>
<path d="M1824.3 1304.7L1827.9 1311.9L1820.7 1311.9Z" fill="rgba(0,128,0,0.6)" stroke="rgba(0,128,0,0.6)" stroke-width="1.3"/>
<path d="M1822.4 1309.7L1826 1316.9L1818.8 1316.9Z" fill="rgba(0,128,0,0.3)" stroke="rgba(0,128,0,0.3)" stroke-width="1.3"/>
<text x="1323.02" y="1004.3" font-size="26" fill="rgb(78,78,218)" stroke="rgb(78,78,218)" stroke-width="0.25" textLength="76.39" lengthAdjust="spacingAndGlyphs">H=0.9</text>
<path d="M1378.2 981.4L1414.1 948.7" fill="none" stroke="rgba(0,0,255,0.7)" stroke-width="1.6"/><path d="M1409.84 959.61L1414.1 948.7L1402.84 951.93" fill="none" stroke="rgba(0,0,255,0.7)" stroke-width="1.6" stroke-linejoin="miter"/>
<text x="1378.31" y="1118.1" font-size="26" fill="rgb(78,78,218)" stroke="rgb(78,78,218)" stroke-width="0.25" textLength="76.91" lengthAdjust="spacingAndGlyphs">H=0.9</text>
<path d="M1460.3 1108.3L1508.4 1105.8" fill="none" stroke="rgba(0,0,255,0.7)" stroke-width="1.6"/><path d="M1498.18 1111.54L1508.4 1105.8L1497.64 1101.15" fill="none" stroke="rgba(0,0,255,0.7)" stroke-width="1.6" stroke-linejoin="miter"/>
<text x="1717.84" y="1106.4" font-size="26" fill="rgb(78,78,218)" stroke="rgb(78,78,218)" stroke-width="0.25" textLength="75.66" lengthAdjust="spacingAndGlyphs">H=0.5</text>
<path d="M1745.3 1115.1Q1733 1131.4 1732.6 1168" fill="none" stroke="rgba(0,0,255,0.7)" stroke-width="1.6"/><path d="M1727.52 1157.44L1732.6 1168L1737.91 1157.56" fill="none" stroke="rgba(0,0,255,0.7)" stroke-width="1.6" stroke-linejoin="miter"/>
<text x="1646.33" y="1299.4" font-size="26" fill="rgb(78,78,218)" stroke="rgb(78,78,218)" stroke-width="0.25" textLength="76.07" lengthAdjust="spacingAndGlyphs">H=0.5</text>
<path d="M1727.3 1284.1L1764.5 1277" fill="none" stroke="rgba(0,0,255,0.7)" stroke-width="1.6"/><path d="M1755.16 1284.08L1764.5 1277L1753.21 1273.86" fill="none" stroke="rgba(0,0,255,0.7)" stroke-width="1.6" stroke-linejoin="miter"/>
<text x="1744.05" y="1356.3" font-size="26" fill="rgb(78,78,218)" stroke="rgb(78,78,218)" stroke-width="0.25" textLength="75.24" lengthAdjust="spacingAndGlyphs">H=0.1</text>
<path d="M1827.7 1333.6L1831.8 1338L1834.9 1335.4" fill="none" stroke="rgba(0,0,255,0.7)" stroke-width="1.3"/>
<path d="M1416.7 946.5L1570.5 1018.7L1634.9 1055.9L1689.5 1112.7L1733.2 1172.7L1767.8 1227.3L1792.1 1272.7L1816.7 1311.6L1831.3 1333.8" fill="none" stroke="rgba(0,0,255,0.45)" stroke-width="1.9" stroke-dasharray="1.9 2.9" stroke-dashoffset="2.1" stroke-linecap="butt"/>
<path d="M1512.2 1105.9L1625.9 1171.4L1690.9 1213.3L1734.9 1247.4L1768.8 1276L1792.5 1297.3L1810 1314.9L1824.3 1330.4L1832.8 1339.2" fill="none" stroke="rgba(0,0,255,0.45)" stroke-width="1.9" stroke-dasharray="1.9 2.9" stroke-dashoffset="2.75" stroke-linecap="butt"/>
<circle cx="1416.7" cy="946.5" r="3.5" fill="rgba(0,0,255,0.3)" stroke="rgba(0,0,255,0.3)" stroke-width="1.3"/>
<circle cx="1570.5" cy="1018.7" r="3.5" fill="rgba(0,0,255,0.3)" stroke="rgba(0,0,255,0.3)" stroke-width="1.3"/>
<circle cx="1634.9" cy="1055.9" r="3.5" fill="rgba(0,0,255,0.3)" stroke="rgba(0,0,255,0.3)" stroke-width="1.3"/>
<circle cx="1689.5" cy="1112.7" r="3.5" fill="rgba(0,0,255,0.3)" stroke="rgba(0,0,255,0.3)" stroke-width="1.3"/>
<circle cx="1733.2" cy="1172.7" r="3.5" fill="rgba(0,0,255,0.3)" stroke="rgba(0,0,255,0.3)" stroke-width="1.3"/>
<circle cx="1767.8" cy="1227.3" r="3.5" fill="rgba(0,0,255,0.3)" stroke="rgba(0,0,255,0.3)" stroke-width="1.3"/>
<circle cx="1792.1" cy="1272.7" r="3.5" fill="rgba(0,0,255,0.3)" stroke="rgba(0,0,255,0.3)" stroke-width="1.3"/>
<circle cx="1816.7" cy="1311.6" r="3.5" fill="rgba(0,0,255,0.3)" stroke="rgba(0,0,255,0.3)" stroke-width="1.3"/>
<circle cx="1831.3" cy="1333.8" r="3.5" fill="rgba(0,0,255,0.3)" stroke="rgba(0,0,255,0.3)" stroke-width="1.3"/>
<rect x="1508.85" y="1102.55" width="6.7" height="6.7" fill="rgba(0,0,255,0.3)" stroke="rgba(0,0,255,0.3)" stroke-width="1.3"/>
<rect x="1622.55" y="1168.05" width="6.7" height="6.7" fill="rgba(0,0,255,0.3)" stroke="rgba(0,0,255,0.3)" stroke-width="1.3"/>
<rect x="1687.55" y="1209.95" width="6.7" height="6.7" fill="rgba(0,0,255,0.3)" stroke="rgba(0,0,255,0.3)" stroke-width="1.3"/>
<rect x="1731.55" y="1244.05" width="6.7" height="6.7" fill="rgba(0,0,255,0.3)" stroke="rgba(0,0,255,0.3)" stroke-width="1.3"/>
<rect x="1765.45" y="1272.65" width="6.7" height="6.7" fill="rgba(0,0,255,0.3)" stroke="rgba(0,0,255,0.3)" stroke-width="1.3"/>
<rect x="1789.15" y="1293.95" width="6.7" height="6.7" fill="rgba(0,0,255,0.3)" stroke="rgba(0,0,255,0.3)" stroke-width="1.3"/>
<rect x="1806.65" y="1311.55" width="6.7" height="6.7" fill="rgba(0,0,255,0.3)" stroke="rgba(0,0,255,0.3)" stroke-width="1.3"/>
<rect x="1820.95" y="1327.05" width="6.7" height="6.7" fill="rgba(0,0,255,0.3)" stroke="rgba(0,0,255,0.3)" stroke-width="1.3"/>
<rect x="1829.45" y="1335.85" width="6.7" height="6.7" fill="rgba(0,0,255,0.3)" stroke="rgba(0,0,255,0.3)" stroke-width="1.3"/>
<circle cx="1751.7" cy="1130.7" r="8.3" fill="none" stroke="rgba(0,0,0,0.4)" stroke-width="1.7"/>
<circle cx="1738.1" cy="1232.8" r="8.3" fill="none" stroke="rgba(0,0,0,0.4)" stroke-width="1.7"/>
<circle cx="1757.6" cy="1233.8" r="8.3" fill="none" stroke="rgba(0,0,0,0.4)" stroke-width="1.7"/>
<circle cx="1764.5" cy="1244" r="8.3" fill="none" stroke="rgba(0,0,0,0.4)" stroke-width="1.7"/>
<circle cx="1773.5" cy="1243.5" r="8.3" fill="none" stroke="rgba(0,0,0,0.4)" stroke-width="1.7"/>
<circle cx="1796.4" cy="1240.9" r="8.3" fill="none" stroke="rgba(0,0,0,0.4)" stroke-width="1.7"/>
<circle cx="1799" cy="1266.1" r="8.3" fill="none" stroke="rgba(0,0,0,0.4)" stroke-width="1.7"/>
<circle cx="1800.2" cy="1269.5" r="8.3" fill="none" stroke="rgba(0,0,0,0.4)" stroke-width="1.7"/>
<circle cx="1817.5" cy="1292.9" r="8.3" fill="none" stroke="rgba(0,0,0,0.4)" stroke-width="1.7"/>
<circle cx="1822" cy="1295.6" r="8.3" fill="none" stroke="rgba(0,0,0,0.4)" stroke-width="1.7"/>
<circle cx="1824.3" cy="1308.3" r="8.3" fill="none" stroke="rgba(0,0,0,0.4)" stroke-width="1.7"/>
<circle cx="1822.4" cy="1313.3" r="8.3" fill="none" stroke="rgba(0,0,0,0.4)" stroke-width="1.7"/>
</g>
<line x1="1003" y1="1344.7" x2="1007.4" y2="1344.7" stroke="#000" stroke-width="1.3"/>
<line x1="1003" y1="1231.15" x2="1007.4" y2="1231.15" stroke="#000" stroke-width="1.3"/>
<line x1="1003" y1="1117.6" x2="1007.4" y2="1117.6" stroke="#000" stroke-width="1.3"/>
<line x1="1003" y1="1004.05" x2="1007.4" y2="1004.05" stroke="#000" stroke-width="1.3"/>
<line x1="1003" y1="890.5" x2="1007.4" y2="890.5" stroke="#000" stroke-width="1.3"/>
<line x1="1003" y1="776.95" x2="1007.4" y2="776.95" stroke="#000" stroke-width="1.3"/>
<line x1="1042.7" y1="1367.2" x2="1042.7" y2="1371.6" stroke="#000" stroke-width="1.3"/>
<line x1="1201.58" y1="1367.2" x2="1201.58" y2="1371.6" stroke="#000" stroke-width="1.3"/>
<line x1="1360.46" y1="1367.2" x2="1360.46" y2="1371.6" stroke="#000" stroke-width="1.3"/>
<line x1="1519.34" y1="1367.2" x2="1519.34" y2="1371.6" stroke="#000" stroke-width="1.3"/>
<line x1="1678.22" y1="1367.2" x2="1678.22" y2="1371.6" stroke="#000" stroke-width="1.3"/>
<line x1="1837.1" y1="1367.2" x2="1837.1" y2="1371.6" stroke="#000" stroke-width="1.3"/>
<rect x="1007.4" y="746.5" width="864.7" height="620.7" fill="none" stroke="#404040" stroke-width="1.5"/>
<text x="52.99" y="699.6" font-size="31.6" fill="#000" stroke="#000" stroke-width="0.25" textLength="44.24" lengthAdjust="spacingAndGlyphs">0.0</text>
<text x="52.99" y="586.05" font-size="31.6" fill="#000" stroke="#000" stroke-width="0.25" textLength="44.24" lengthAdjust="spacingAndGlyphs">0.1</text>
<text x="52.99" y="472.5" font-size="31.6" fill="#000" stroke="#000" stroke-width="0.25" textLength="44.24" lengthAdjust="spacingAndGlyphs">0.2</text>
<text x="52.99" y="358.95" font-size="31.6" fill="#000" stroke="#000" stroke-width="0.25" textLength="44.24" lengthAdjust="spacingAndGlyphs">0.3</text>
<text x="52.99" y="245.4" font-size="31.6" fill="#000" stroke="#000" stroke-width="0.25" textLength="44.24" lengthAdjust="spacingAndGlyphs">0.4</text>
<text x="52.99" y="131.85" font-size="31.6" fill="#000" stroke="#000" stroke-width="0.25" textLength="44.24" lengthAdjust="spacingAndGlyphs">0.5</text>
<text x="52.99" y="1356" font-size="31.6" fill="#000" stroke="#000" stroke-width="0.25" textLength="44.24" lengthAdjust="spacingAndGlyphs">0.0</text>
<text x="52.99" y="1242.45" font-size="31.6" fill="#000" stroke="#000" stroke-width="0.25" textLength="44.24" lengthAdjust="spacingAndGlyphs">0.1</text>
<text x="52.99" y="1128.9" font-size="31.6" fill="#000" stroke="#000" stroke-width="0.25" textLength="44.24" lengthAdjust="spacingAndGlyphs">0.2</text>
<text x="52.99" y="1015.35" font-size="31.6" fill="#000" stroke="#000" stroke-width="0.25" textLength="44.24" lengthAdjust="spacingAndGlyphs">0.3</text>
<text x="52.99" y="901.8" font-size="31.6" fill="#000" stroke="#000" stroke-width="0.25" textLength="44.24" lengthAdjust="spacingAndGlyphs">0.4</text>
<text x="52.99" y="788.25" font-size="31.6" fill="#000" stroke="#000" stroke-width="0.25" textLength="44.24" lengthAdjust="spacingAndGlyphs">0.5</text>
<text x="119.57" y="1397.8" font-size="31.6" fill="#000" stroke="#000" stroke-width="0.25" textLength="45.07" lengthAdjust="spacingAndGlyphs">0.0</text>
<text x="278.45" y="1397.8" font-size="31.6" fill="#000" stroke="#000" stroke-width="0.25" textLength="45.07" lengthAdjust="spacingAndGlyphs">0.2</text>
<text x="437.33" y="1397.8" font-size="31.6" fill="#000" stroke="#000" stroke-width="0.25" textLength="45.07" lengthAdjust="spacingAndGlyphs">0.4</text>
<text x="596.21" y="1397.8" font-size="31.6" fill="#000" stroke="#000" stroke-width="0.25" textLength="45.07" lengthAdjust="spacingAndGlyphs">0.6</text>
<text x="755.09" y="1397.8" font-size="31.6" fill="#000" stroke="#000" stroke-width="0.25" textLength="45.07" lengthAdjust="spacingAndGlyphs">0.8</text>
<text x="912.9" y="1397.8" font-size="31.6" fill="#000" stroke="#000" stroke-width="0.25" textLength="46.17" lengthAdjust="spacingAndGlyphs">1.0</text>
<text x="1020.07" y="1397.8" font-size="31.6" fill="#000" stroke="#000" stroke-width="0.25" textLength="45.07" lengthAdjust="spacingAndGlyphs">0.0</text>
<text x="1178.95" y="1397.8" font-size="31.6" fill="#000" stroke="#000" stroke-width="0.25" textLength="45.07" lengthAdjust="spacingAndGlyphs">0.2</text>
<text x="1337.83" y="1397.8" font-size="31.6" fill="#000" stroke="#000" stroke-width="0.25" textLength="45.07" lengthAdjust="spacingAndGlyphs">0.4</text>
<text x="1496.71" y="1397.8" font-size="31.6" fill="#000" stroke="#000" stroke-width="0.25" textLength="45.07" lengthAdjust="spacingAndGlyphs">0.6</text>
<text x="1655.59" y="1397.8" font-size="31.6" fill="#000" stroke="#000" stroke-width="0.25" textLength="45.07" lengthAdjust="spacingAndGlyphs">0.8</text>
<text x="1813.4" y="1397.8" font-size="31.6" fill="#000" stroke="#000" stroke-width="0.25" textLength="46.17" lengthAdjust="spacingAndGlyphs">1.0</text>
<g transform="translate(42.7 596.7) rotate(-90)"><text x="-2.1" y="0" font-size="31" fill="#000" stroke="#000" stroke-width="0.25" textLength="398.4" lengthAdjust="spacingAndGlyphs">Fisher Information Measure</text></g>
<g transform="translate(42.7 1253.1) rotate(-90)"><text x="-2.1" y="0" font-size="31" fill="#000" stroke="#000" stroke-width="0.25" textLength="398.4" lengthAdjust="spacingAndGlyphs">Fisher Information Measure</text></g>
<text x="390.54" y="1430.9" font-size="30.4" fill="#000" stroke="#000" stroke-width="0.25" textLength="296.11" lengthAdjust="spacingAndGlyphs">Permutation entropy</text>
<text x="1291.04" y="1430.9" font-size="30.4" fill="#000" stroke="#000" stroke-width="0.25" textLength="296.11" lengthAdjust="spacingAndGlyphs">Permutation entropy</text>
<text x="650.3" y="45.8" font-size="36.6" fill="#000" stroke="#000" stroke-width="0.25" textLength="587.9" lengthAdjust="spacingAndGlyphs">Fisher-Shannon information plane</text>
<text x="896.92" y="154.6" font-size="58" font-style="italic" fill="#444" stroke="#444" stroke-width="0.25" textLength="35.32" lengthAdjust="spacingAndGlyphs">B</text>
<text x="1797.42" y="154.6" font-size="58" font-style="italic" fill="#444" stroke="#444" stroke-width="0.25" textLength="35.32" lengthAdjust="spacingAndGlyphs">B</text>
<text x="1834.64" y="163.7" font-size="40" font-style="italic" fill="#444" stroke="#444" stroke-width="0.25" textLength="20.73" lengthAdjust="spacingAndGlyphs">x</text>
<text x="896.92" y="811" font-size="58" font-style="italic" fill="#444" stroke="#444" stroke-width="0.25" textLength="35.32" lengthAdjust="spacingAndGlyphs">B</text>
<text x="935.22" y="820.1" font-size="40" font-style="italic" fill="#444" stroke="#444" stroke-width="0.25" textLength="19.25" lengthAdjust="spacingAndGlyphs">y</text>
<text x="1797.42" y="811" font-size="58" font-style="italic" fill="#444" stroke="#444" stroke-width="0.25" textLength="35.32" lengthAdjust="spacingAndGlyphs">B</text>
<text x="1834.1" y="820.1" font-size="40" font-style="italic" fill="#444" stroke="#444" stroke-width="0.25" textLength="20.6" lengthAdjust="spacingAndGlyphs">z</text>
<rect x="1021.7" y="98.1" width="282.5" height="605.1" rx="4" ry="4" fill="rgba(255,255,255,0.8)" stroke="#cccccc" stroke-width="1.3"/>
<circle cx="1062.6" cy="123.4" r="3.5" fill="rgba(0,0,255,0.3)" stroke="rgba(0,0,255,0.3)" stroke-width="1.3"/>
<text x="1115.6" y="131.6" font-size="30.4" fill="#000" stroke="#000" stroke-width="0.25" textLength="67.38" lengthAdjust="spacingAndGlyphs">fBm,</text>
<text x="1192.5" y="131.6" font-size="30.4" font-style="italic" fill="#000" stroke="#000" stroke-width="0.25" textLength="11.23" lengthAdjust="spacingAndGlyphs">r</text>
<g transform="translate(0 122.8) scale(1 0.72) translate(0 -122.8)"><text x="1210.81" y="132.5" font-size="30.4" fill="#000" stroke="#000" stroke-width="0.25" textLength="21.19" lengthAdjust="spacingAndGlyphs">=</text></g>
<text x="1239.53" y="131.6" font-size="30.4" fill="#000" stroke="#000" stroke-width="0.25" textLength="54.13" lengthAdjust="spacingAndGlyphs">300</text>
<rect x="1059.25" y="162.7" width="6.7" height="6.7" fill="rgba(0,0,255,0.3)" stroke="rgba(0,0,255,0.3)" stroke-width="1.3"/>
<text x="1115.6" y="174.25" font-size="30.4" fill="#000" stroke="#000" stroke-width="0.25" textLength="67.38" lengthAdjust="spacingAndGlyphs">fBm,</text>
<text x="1192.5" y="174.25" font-size="30.4" font-style="italic" fill="#000" stroke="#000" stroke-width="0.25" textLength="11.23" lengthAdjust="spacingAndGlyphs">r</text>
<g transform="translate(0 165.45) scale(1 0.72) translate(0 -165.45)"><text x="1210.81" y="175.15" font-size="30.4" fill="#000" stroke="#000" stroke-width="0.25" textLength="21.19" lengthAdjust="spacingAndGlyphs">=</text></g>
<text x="1239.52" y="174.25" font-size="30.4" fill="#000" stroke="#000" stroke-width="0.25" textLength="36.35" lengthAdjust="spacingAndGlyphs">20</text>
<path d="M1062.6 205.1L1066.2 212.3L1059 212.3Z" fill="rgba(0,128,0,1.0)" stroke="rgba(0,128,0,1.0)" stroke-width="1.3"/>
<text x="1115.8" y="216.9" font-size="30.4" fill="#000" stroke="#000" stroke-width="0.25" textLength="70.35" lengthAdjust="spacingAndGlyphs">fast1</text>
<path d="M1062.6 247.75L1066.2 254.95L1059 254.95Z" fill="rgba(0,128,0,0.6)" stroke="rgba(0,128,0,0.6)" stroke-width="1.3"/>
<text x="1115.8" y="259.55" font-size="30.4" fill="#000" stroke="#000" stroke-width="0.25" textLength="70.35" lengthAdjust="spacingAndGlyphs">fast2</text>
<path d="M1062.6 290.4L1066.2 297.6L1059 297.6Z" fill="rgba(0,128,0,0.3)" stroke="rgba(0,128,0,0.3)" stroke-width="1.3"/>
<text x="1115.8" y="302.2" font-size="30.4" fill="#000" stroke="#000" stroke-width="0.25" textLength="70.35" lengthAdjust="spacingAndGlyphs">fast3</text>
<rect x="1059.2" y="333.25" width="6.8" height="6.8" fill="rgba(148,0,211,1.0)" stroke="rgba(148,0,211,1.0)" stroke-width="1.3"/>
<text x="1114.74" y="344.85" font-size="30.4" fill="#000" stroke="#000" stroke-width="0.25" textLength="82" lengthAdjust="spacingAndGlyphs">slow1</text>
<rect x="1059.2" y="375.9" width="6.8" height="6.8" fill="rgba(148,0,211,0.6)" stroke="rgba(148,0,211,0.6)" stroke-width="1.3"/>
<text x="1114.73" y="387.5" font-size="30.4" fill="#000" stroke="#000" stroke-width="0.25" textLength="83.09" lengthAdjust="spacingAndGlyphs">slow2</text>
<rect x="1059.2" y="418.55" width="6.8" height="6.8" fill="rgba(148,0,211,0.3)" stroke="rgba(148,0,211,0.3)" stroke-width="1.3"/>
<text x="1114.74" y="430.15" font-size="30.4" fill="#000" stroke="#000" stroke-width="0.25" textLength="82" lengthAdjust="spacingAndGlyphs">slow3</text>
<path d="M1062.6 460.9L1063.43 463.46L1066.12 463.46L1063.94 465.04L1064.77 467.59L1062.6 466.01L1060.43 467.59L1061.26 465.04L1059.08 463.46L1061.77 463.46Z" fill="rgba(255,0,0,1.0)" stroke="rgba(255,0,0,1.0)" stroke-width="0.9"/>
<text x="1114.72" y="472.8" font-size="30.4" fill="#000" stroke="#000" stroke-width="0.25" textLength="116.32" lengthAdjust="spacingAndGlyphs">sheath1</text>
<path d="M1062.6 503.55L1063.43 506.11L1066.12 506.11L1063.94 507.69L1064.77 510.24L1062.6 508.66L1060.43 510.24L1061.26 507.69L1059.08 506.11L1061.77 506.11Z" fill="rgba(255,0,0,0.6)" stroke="rgba(255,0,0,0.6)" stroke-width="0.9"/>
<text x="1114.72" y="515.45" font-size="30.4" fill="#000" stroke="#000" stroke-width="0.25" textLength="116.32" lengthAdjust="spacingAndGlyphs">sheath2</text>
<path d="M1062.6 546.2L1063.43 548.76L1066.12 548.76L1063.94 550.34L1064.77 552.89L1062.6 551.31L1060.43 552.89L1061.26 550.34L1059.08 548.76L1061.77 548.76Z" fill="rgba(255,0,0,0.3)" stroke="rgba(255,0,0,0.3)" stroke-width="0.9"/>
<text x="1114.72" y="558.1" font-size="30.4" fill="#000" stroke="#000" stroke-width="0.25" textLength="116.32" lengthAdjust="spacingAndGlyphs">sheath3</text>
<path d="M1062.6 587.75L1067.4 592.55L1062.6 597.35L1057.8 592.55Z" fill="rgba(0,0,0,1.0)" stroke="rgba(0,0,0,1.0)" stroke-width="1.4"/>
<text x="1113.64" y="600.75" font-size="30.4" fill="#000" stroke="#000" stroke-width="0.25" textLength="62.1" lengthAdjust="spacingAndGlyphs">mc1</text>
<path d="M1062.6 630.4L1067.4 635.2L1062.6 640L1057.8 635.2Z" fill="rgba(0,0,0,0.6)" stroke="rgba(0,0,0,0.6)" stroke-width="1.4"/>
<text x="1113.64" y="643.4" font-size="30.4" fill="#000" stroke="#000" stroke-width="0.25" textLength="62.1" lengthAdjust="spacingAndGlyphs">mc2</text>
<path d="M1062.6 673.05L1067.4 677.85L1062.6 682.65L1057.8 677.85Z" fill="rgba(0,0,0,0.3)" stroke="rgba(0,0,0,0.3)" stroke-width="1.4"/>
<text x="1113.64" y="686.05" font-size="30.4" fill="#000" stroke="#000" stroke-width="0.25" textLength="62.1" lengthAdjust="spacingAndGlyphs">mc3</text>
</svg>
</body></html>
